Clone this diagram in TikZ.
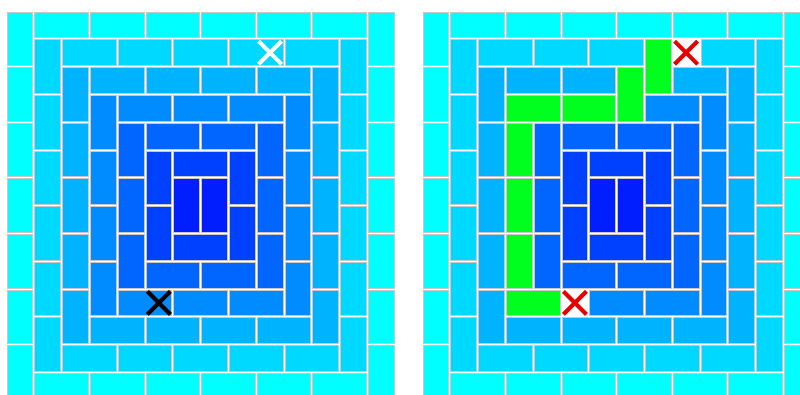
\documentclass[tikz,border=0pt]{standalone}
\definecolor{r0}{RGB}{0,255,255}
\definecolor{r1}{RGB}{0,217,255}
\definecolor{r2}{RGB}{0,179,255}
\definecolor{r3}{RGB}{0,140,255}
\definecolor{r4}{RGB}{0,102,255}
\definecolor{r5}{RGB}{0,64,255}
\definecolor{r6}{RGB}{0,30,255}
\definecolor{pathgreen}{RGB}{0,255,30}
\definecolor{xred}{RGB}{232,0,0}
\definecolor{edgegray}{RGB}{200,200,200}
\def\s{27.8}
\def\yo{11}
\tikzset{
  tile/.style={draw=edgegray, line width=0.9pt},
  xmark/.style={line width=4pt}
}
% #1 panel x offset, #2 col, #3 row, #4 width, #5 height (cells), #6 colour
\newcommand{\tl}[6]{%
  \path[tile, fill=#6] ({#1+(#2)*\s+1},{\yo+(#3)*\s+1}) rectangle ({#1+(#2+#4)*\s-1},{\yo+(#3+#5)*\s-1});%
}
\newcommand{\blank}[5]{%
  \fill[white] ({#1+(#2)*\s},{\yo+(#3)*\s}) rectangle ({#1+(#2+#4)*\s},{\yo+(#3+#5)*\s});%
}
\newcommand{\drawpanel}[1]{%
  \foreach \k in {0,...,6}{%
    \pgfmathtruncatemacro{\n}{13-\k}%
    \pgfmathtruncatemacro{\nv}{6-\k}%
    \foreach \j in {0,...,\nv}{%
      \pgfmathtruncatemacro{\r}{\k+2*\j}%
      \tl{#1}{\k}{\r}{1}{2}{r\k}%
      \tl{#1}{\n}{\r}{1}{2}{r\k}%
    }%
    \ifnum\k<6
      \pgfmathtruncatemacro{\nh}{5-\k}%
      \foreach \j in {0,...,\nh}{%
        \pgfmathtruncatemacro{\c}{\k+1+2*\j}%
        \tl{#1}{\c}{\k}{2}{1}{r\k}%
        \tl{#1}{\c}{\n}{2}{1}{r\k}%
      }%
    \fi
  }%
}
\newcommand{\xat}[2]{% centre name, colour
  \draw[xmark, #2] ([shift={(-11.5,-11.5)}]#1) -- ([shift={(11.5,11.5)}]#1);
  \draw[xmark, #2] ([shift={(-11.5,11.5)}]#1) -- ([shift={(11.5,-11.5)}]#1);
}
\begin{document}
\begin{tikzpicture}[x=1pt,y=-1pt]
  \useasboundingbox (0,0) rectangle (800,394);
  \clip (0,0) rectangle (800,394);
  \fill[white] (0,0) rectangle (800,394);
  % left panel
  \drawpanel{6}
  % right panel
  \drawpanel{422}
  % remove the tiles replaced by the path
  \blank{422}{8}{1}{2}{1}
  \blank{422}{7}{2}{2}{1}
  \blank{422}{3}{3}{1}{8}
  \blank{422}{4}{3}{4}{1}
  \blank{422}{4}{10}{2}{1}
  % green path
  \tl{422}{8}{1}{1}{2}{pathgreen}
  \tl{422}{7}{2}{1}{2}{pathgreen}
  \tl{422}{5}{3}{2}{1}{pathgreen}
  \tl{422}{3}{3}{2}{1}{pathgreen}
  \tl{422}{3}{4}{1}{2}{pathgreen}
  \tl{422}{3}{6}{1}{2}{pathgreen}
  \tl{422}{3}{8}{1}{2}{pathgreen}
  \tl{422}{3}{10}{2}{1}{pathgreen}
  % crosses
  \coordinate (xa) at ({6+9.5*\s},{\yo+1.5*\s});
  \coordinate (xb) at ({6+5.5*\s},{\yo+10.5*\s});
  \coordinate (xc) at ({422+9.5*\s},{\yo+1.5*\s});
  \coordinate (xd) at ({422+5.5*\s},{\yo+10.5*\s});
  \xat{xa}{white}
  \xat{xb}{black}
  \xat{xc}{xred}
  \xat{xd}{xred}
\end{tikzpicture}
\end{document}
